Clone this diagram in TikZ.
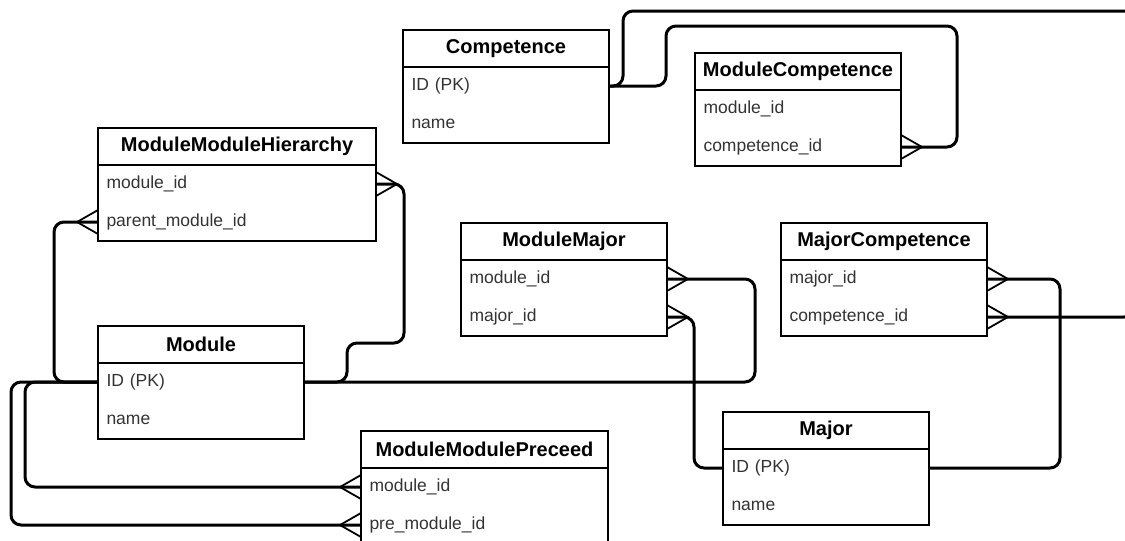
\documentclass[tikz,border=0pt]{standalone}
\usepackage{fontspec}
\setmainfont{Liberation Sans}
\usetikzlibrary{positioning,decorations.markings}
\tikzset{
    x=0.5pt,
    y=-0.5pt,
    node distance=0pt,
    tabhead/.style = {
        draw,
        shape=rectangle,
        minimum width=#1,
        minimum height=18.5pt,
        inner sep=0pt,
        outer sep=0pt,
        line width=1pt,
        font=\bfseries\fontsize{10}{12}\selectfont
    },
    tabrow/.style = {
        shape=rectangle,
        text width=#1,
        inner xsep=4.25pt,
        inner ysep=0pt,
        outer sep=0pt,
        minimum height=19pt,
        align=left,
        text=black!80,
        font=\fontsize{8.75}{10}\selectfont
    },
    tabbody/.style = {
        line width=1pt
    },
    link/.style = {
        line width=1.5pt,
        rounded corners=5pt
    },
    crow/.style = {
        postaction={decorate},
        decoration={markings, mark=at position 0 with {
            \draw[line width=0.9pt, sharp corners] (0pt,6pt) -- (10.5pt,0pt) -- (0pt,-6pt);
        }}
    },
}

\begin{document}
\begin{tikzpicture}
            \useasboundingbox (0,0) rectangle (1125,541);

            \node[tabhead=103pt] (comp) at (506,48.5) {Competence};
            \node[tabrow=94.5pt, below=of comp] (comp-id) {ID (PK)};
            \node[tabrow=94.5pt, below=of comp-id] (comp-name) {name};

            \node[tabhead=103pt] (mc) at (798,71.5) {ModuleCompetence};
            \node[tabrow=94.5pt, below=of mc] (mc-mod) {module\_id};
            \node[tabrow=94.5pt, below=of mc-mod] (mc-comp) {competence\_id};

            \node[tabhead=139pt] (hier) at (237,146.5) {ModuleModuleHierarchy};
            \node[tabrow=130.5pt, below=of hier] (hier-mod) {module\_id};
            \node[tabrow=130.5pt, below=of hier-mod] (hier-par) {parent\_module\_id};

            \node[tabhead=103pt] (mm) at (564,241.5) {ModuleMajor};
            \node[tabrow=94.5pt, below=of mm] (mm-mod) {module\_id};
            \node[tabrow=94.5pt, below=of mm-mod] (mm-maj) {major\_id};

            \node[tabhead=103pt] (mjc) at (884,241.5) {MajorCompetence};
            \node[tabrow=94.5pt, below=of mjc] (mjc-maj) {major\_id};
            \node[tabrow=94.5pt, below=of mjc-maj] (mjc-comp) {competence\_id};

            \node[tabhead=103pt] (mod) at (201,344.5) {Module};
            \node[tabrow=94.5pt, below=of mod] (mod-id) {ID (PK)};
            \node[tabrow=94.5pt, below=of mod-id] (mod-name) {name};

            \node[tabhead=123.5pt] (prec) at (484.5,449.5) {ModuleModulePreceed};
            \node[tabrow=115pt, below=of prec] (prec-mod) {module\_id};
            \node[tabrow=115pt, below=of prec-mod] (prec-pre) {pre\_module\_id};

            \node[tabhead=103pt] (maj) at (826,430.5) {Major};
            \node[tabrow=94.5pt, below=of maj] (maj-id) {ID (PK)};
            \node[tabrow=94.5pt, below=of maj-id] (maj-name) {name};

            \path[draw, tabbody] (comp-id.north west) rectangle (comp-name.south east);
            \path[draw, tabbody] (mc-mod.north west) rectangle (mc-comp.south east);
            \path[draw, tabbody] (hier-mod.north west) rectangle (hier-par.south east);
            \path[draw, tabbody] (mm-mod.north west) rectangle (mm-maj.south east);
            \path[draw, tabbody] (mjc-maj.north west) rectangle (mjc-comp.south east);
            \path[draw, tabbody] (mod-id.north west) rectangle (mod-name.south east);
            \path[draw, tabbody] (prec-mod.north west) rectangle (prec-pre.south east);
            \path[draw, tabbody] (maj-id.north west) rectangle (maj-name.south east);

            \path[draw, link, crow] (mjc-comp.east) -- (1134,317) |- (623,11) |- (comp-id.east);
            \path[draw, link, crow] (mc-comp.east) -- (957,147) |- (666,26) |- (comp-id.east);
            \path[draw, link, crow] (hier-par.west) -- (54,222) |- (mod-id.west);
            \path[draw, link, crow] (hier-mod.east) -- (404,184) |- (347,343) |- (mod-id.east);
            \path[draw, link, crow] (mm-mod.east) -- (755,279) |- (mod-id.east);
            \path[draw, link, crow] (mm-maj.east) -- (694,317) |- (maj-id.west);
            \path[draw, link, crow] (mjc-maj.east) -- (1060,279) |- (maj-id.east);
            \path[draw, link, crow] (prec-mod.west) -- (25,487) |- (mod-id.west);
            \path[draw, link, crow] (prec-pre.west) -- (11,525) |- (mod-id.west);
\end{tikzpicture}
\end{document}
